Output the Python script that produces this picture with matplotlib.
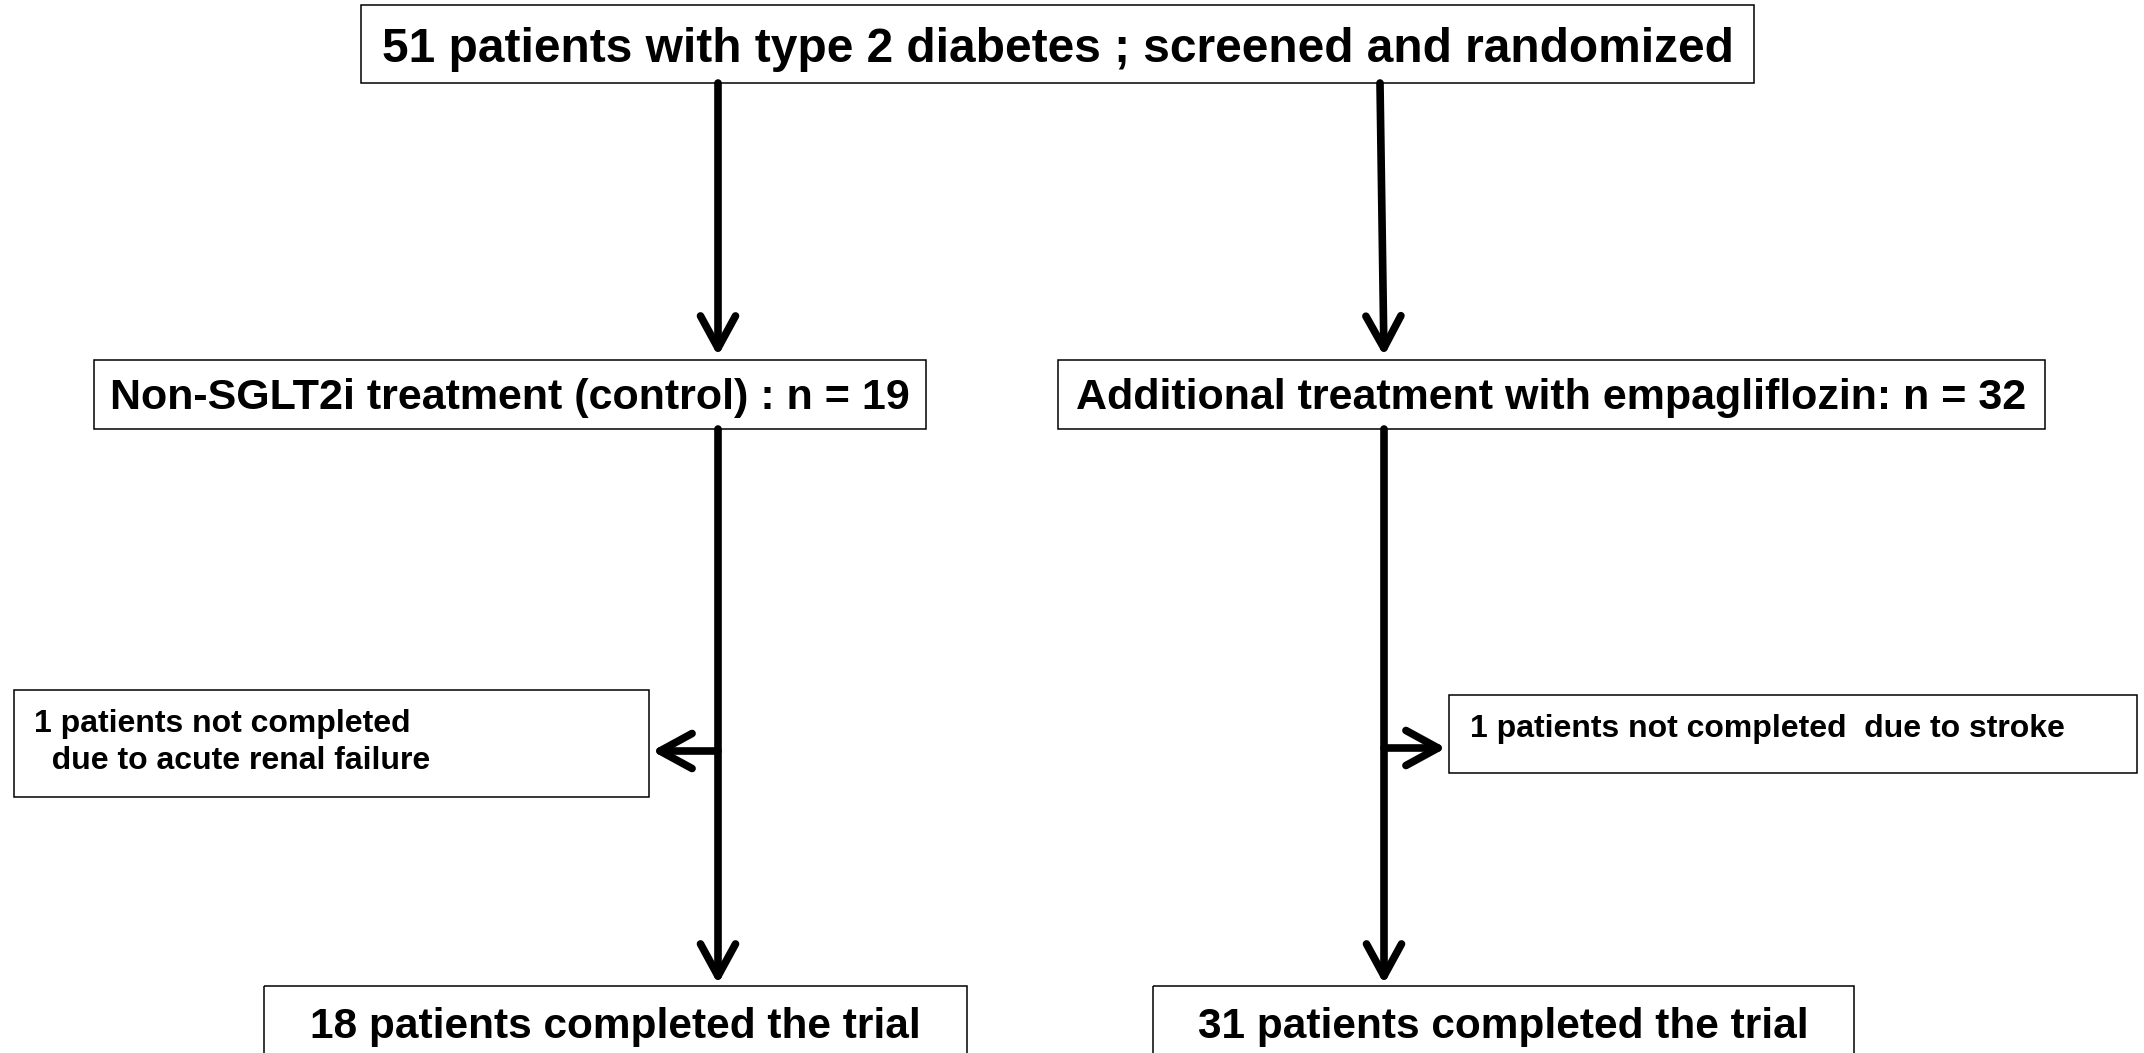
import matplotlib
matplotlib.use('Agg')
import matplotlib.pyplot as plt
from matplotlib.patches import Rectangle

plt.rcParams['font.family'] = ['Liberation Sans', 'DejaVu Sans']

# box texts
top_label = '51 patients with type 2 diabetes ; screened and randomized'
arm_labels = ['Non-SGLT2i treatment (control) : n = 19',
              'Additional treatment with empagliflozin: n = 32']
dropout_labels = ['1 patients not completed\n  due to acute renal failure',
                  '1 patients not completed  due to stroke']
final_labels = ['18 patients completed the trial',
                '31 patients completed the trial']

# layout in pixels (x0, y0, x1, y1), y downward
top_box = (361, 5, 1754, 83)
arm_boxes = [(94, 360, 926, 429), (1058, 360, 2045, 429)]
drop_boxes = [(14, 690, 649, 797), (1449, 695, 2137, 773)]
final_boxes = [(264, 986, 967, 1060), (1153, 986, 1854, 1060)]
col_x = [718, 1384]


def box(ax, b, text, size, align='center', pad=0, dy=0):
    x0, y0, x1, y1 = b
    ax.add_patch(Rectangle((x0, y0), x1 - x0, y1 - y0, fill=False,
                           edgecolor='black', lw=1.1))
    if align == 'center':
        ax.text((x0 + x1) / 2, (y0 + y1) / 2 + dy, text, ha='center', va='center',
                fontsize=size, fontweight='bold')
    else:
        ax.text(x0 + pad, y0 + 19, text, ha='left', va='top',
                fontsize=size, fontweight='bold', linespacing=1.32)


def arrow(ax, start, end):
    ax.annotate('', xy=end, xytext=start,
                arrowprops=dict(arrowstyle='->,head_length=1.1,head_width=0.6',
                                lw=5.5, color='black', mutation_scale=21,
                                shrinkA=0, shrinkB=0, capstyle='round',
                                joinstyle='round'))


fig = plt.figure(figsize=(21.44, 10.53), dpi=100)
ax = fig.add_axes([0, 0, 1, 1])
ax.set_xlim(0, 2144)
ax.set_ylim(1053, 0)
ax.axis('off')

box(ax, top_box, top_label, 34.5, dy=5)
for i in range(2):
    box(ax, arm_boxes[i], arm_labels[i], 31, dy=3)
    box(ax, final_boxes[i], final_labels[i], 30.5, dy=4)

box(ax, drop_boxes[0], dropout_labels[0], 23, align='left', pad=20)
box(ax, drop_boxes[1], dropout_labels[1], 23, align='left', pad=21)

# top to arms
arrow(ax, (col_x[0], 83), (col_x[0], 356))
arrow(ax, (1380, 83), (col_x[1], 356))
# arms to final
arrow(ax, (col_x[0], 429), (col_x[0], 984))
arrow(ax, (col_x[1], 429), (col_x[1], 984))
# side arrows
arrow(ax, (col_x[0], 751), (652, 751))
arrow(ax, (col_x[1], 748), (1446, 748))

fig.savefig('out.png', dpi=100)
